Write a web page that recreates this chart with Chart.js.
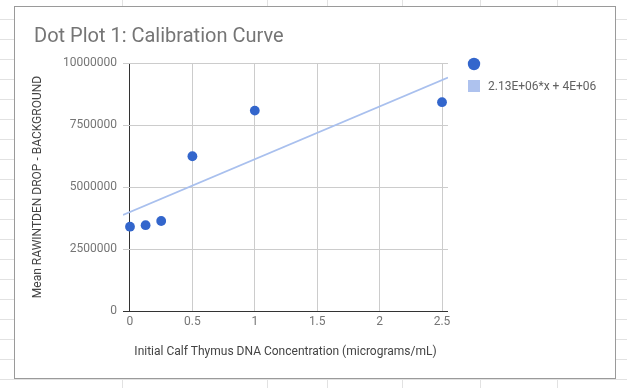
<!DOCTYPE html>
<html>
<head>
<meta charset="utf-8">
<script src="https://cdn.jsdelivr.net/npm/chart.js@4.4.1/dist/chart.umd.min.js"></script>
<style>
  html, body { margin: 0; padding: 0; background: #fff; }
  body { width: 627px; height: 388px; position: relative; overflow: hidden; }
  .hl { position: absolute; left: 0; width: 627px; height: 1px; background: #e2e2e2; }
  .vl { position: absolute; top: 0; width: 1px; height: 388px; background: #e2e2e2; }
  #box { position: absolute; left: 14px; top: 6px; width: 602px; height: 373px;
         box-sizing: border-box; border: 1px solid #9a9a9a; background: #fff; }
  canvas { display: block; }
</style>
</head>
<body>
<div id="box"><canvas id="chart" width="600" height="371"></canvas></div>
<script>
// calibration readings
var concentration = [0, 0.125, 0.25, 0.5, 1, 2.5];
var meanDrop = [3400000, 3460000, 3630000, 6240000, 8080000, 8420000];

// trendline ends as drawn
var trendX = [-0.056, 2.548];
var trendY = [3870000, 9410000];
var trendLabel = '2.13E+06*x + 4E+06';

var xTicks = [0, 0.5, 1, 1.5, 2, 2.5];
var yTicks = [0, 2500000, 5000000, 7500000, 10000000];

// spreadsheet cells behind the chart
var colEdges = [122, 267, 327, 402, 480, 557];
for (var r = 19; r < 388; r += 20) {
  var h = document.createElement('div');
  h.className = 'hl'; h.style.top = r + 'px';
  document.body.insertBefore(h, document.getElementById('box'));
}
colEdges.forEach(function(c) {
  var v = document.createElement('div');
  v.className = 'vl'; v.style.left = c + 'px';
  document.body.insertBefore(v, document.getElementById('box'));
});

var font = 'Roboto, "Noto Sans", sans-serif';

var sideLegend = {
  id: 'sideLegend',
  afterDraw: function(chart) {
    var ctx = chart.ctx;
    var x = chart.chartArea.right + 26;
    var dots = chart.data.datasets[1];
    var line = chart.data.datasets[0];
    ctx.save();
    ctx.fillStyle = dots.backgroundColor;
    ctx.beginPath();
    ctx.arc(x, 57, 6.2, 0, Math.PI * 2);
    ctx.fill();
    ctx.fillStyle = '#aec2ee';
    ctx.fillRect(x - 6, 73, 12, 12);
    ctx.fillStyle = '#616161';
    ctx.font = '12px ' + font;
    ctx.textBaseline = 'middle';
    ctx.fillText(line.label, x + 14, 79.5);
    ctx.restore();
  }
};

function gridColor(c) {
  return c.tick && c.tick.value === 0 ? '#333333' : '#cccccc';
}

new Chart(document.getElementById('chart'), {
  type: 'scatter',
  data: {
    datasets: [{
      type: 'line',
      label: trendLabel,
      data: trendX.map(function(x, i) { return { x: x, y: trendY[i] }; }),
      borderColor: '#a9c0ee',
      borderWidth: 1.8,
      pointRadius: 0,
      fill: false
    }, {
      label: '',
      data: concentration.map(function(x, i) { return { x: x, y: meanDrop[i] }; }),
      backgroundColor: '#3366cc',
      borderWidth: 0,
      pointRadius: 4.9,
      pointHoverRadius: 4.9
    }]
  },
  options: {
    responsive: false,
    animation: false,
    layout: { padding: { left: 19, right: 167, top: 0, bottom: 0 } },
    plugins: {
      legend: { display: false },
      tooltip: { enabled: false },
      title: {
        display: true,
        text: 'Dot Plot 1: Calibration Curve',
        align: 'start',
        color: '#757575',
        font: { family: font, size: 20, weight: 'normal' },
        padding: { top: 18, bottom: 14 }
      }
    },
    scales: {
      x: {
        type: 'linear',
        min: trendX[0],
        max: trendX[1],
        afterBuildTicks: function(s) { s.ticks = xTicks.map(function(v) { return { value: v }; }); },
        afterFit: function(s) { s.height = 67; },
        grid: { color: gridColor, drawTicks: false, lineWidth: 1 },
        border: { display: false },
        ticks: { color: '#757575', font: { family: font, size: 12 }, padding: 4, maxRotation: 0,
                 callback: function(v) { return String(v); } },
        title: {
          display: true,
          text: 'Initial Calf Thymus DNA Concentration (micrograms/mL)',
          color: '#444444',
          font: { family: font, size: 12 },
          padding: { top: 0, bottom: 19 }
        }
      },
      y: {
        type: 'linear',
        min: yTicks[0],
        max: yTicks[yTicks.length - 1],
        afterBuildTicks: function(s) { s.ticks = yTicks.map(function(v) { return { value: v }; }); },
        afterFit: function(s) { s.width = 89; },
        grid: { color: gridColor, drawTicks: false, lineWidth: 1 },
        border: { display: false },
        ticks: { color: '#757575', font: { family: font, size: 12 }, padding: 6,
                 callback: function(v) { return String(v); } },
        title: {
          display: true,
          text: 'Mean RAWINTDEN DROP - BACKGROUND',
          color: '#444444',
          font: { family: font, size: 12 },
          padding: { top: -3, bottom: 0 }
        }
      }
    }
  },
  plugins: [sideLegend]
});
</script>
</body>
</html>
